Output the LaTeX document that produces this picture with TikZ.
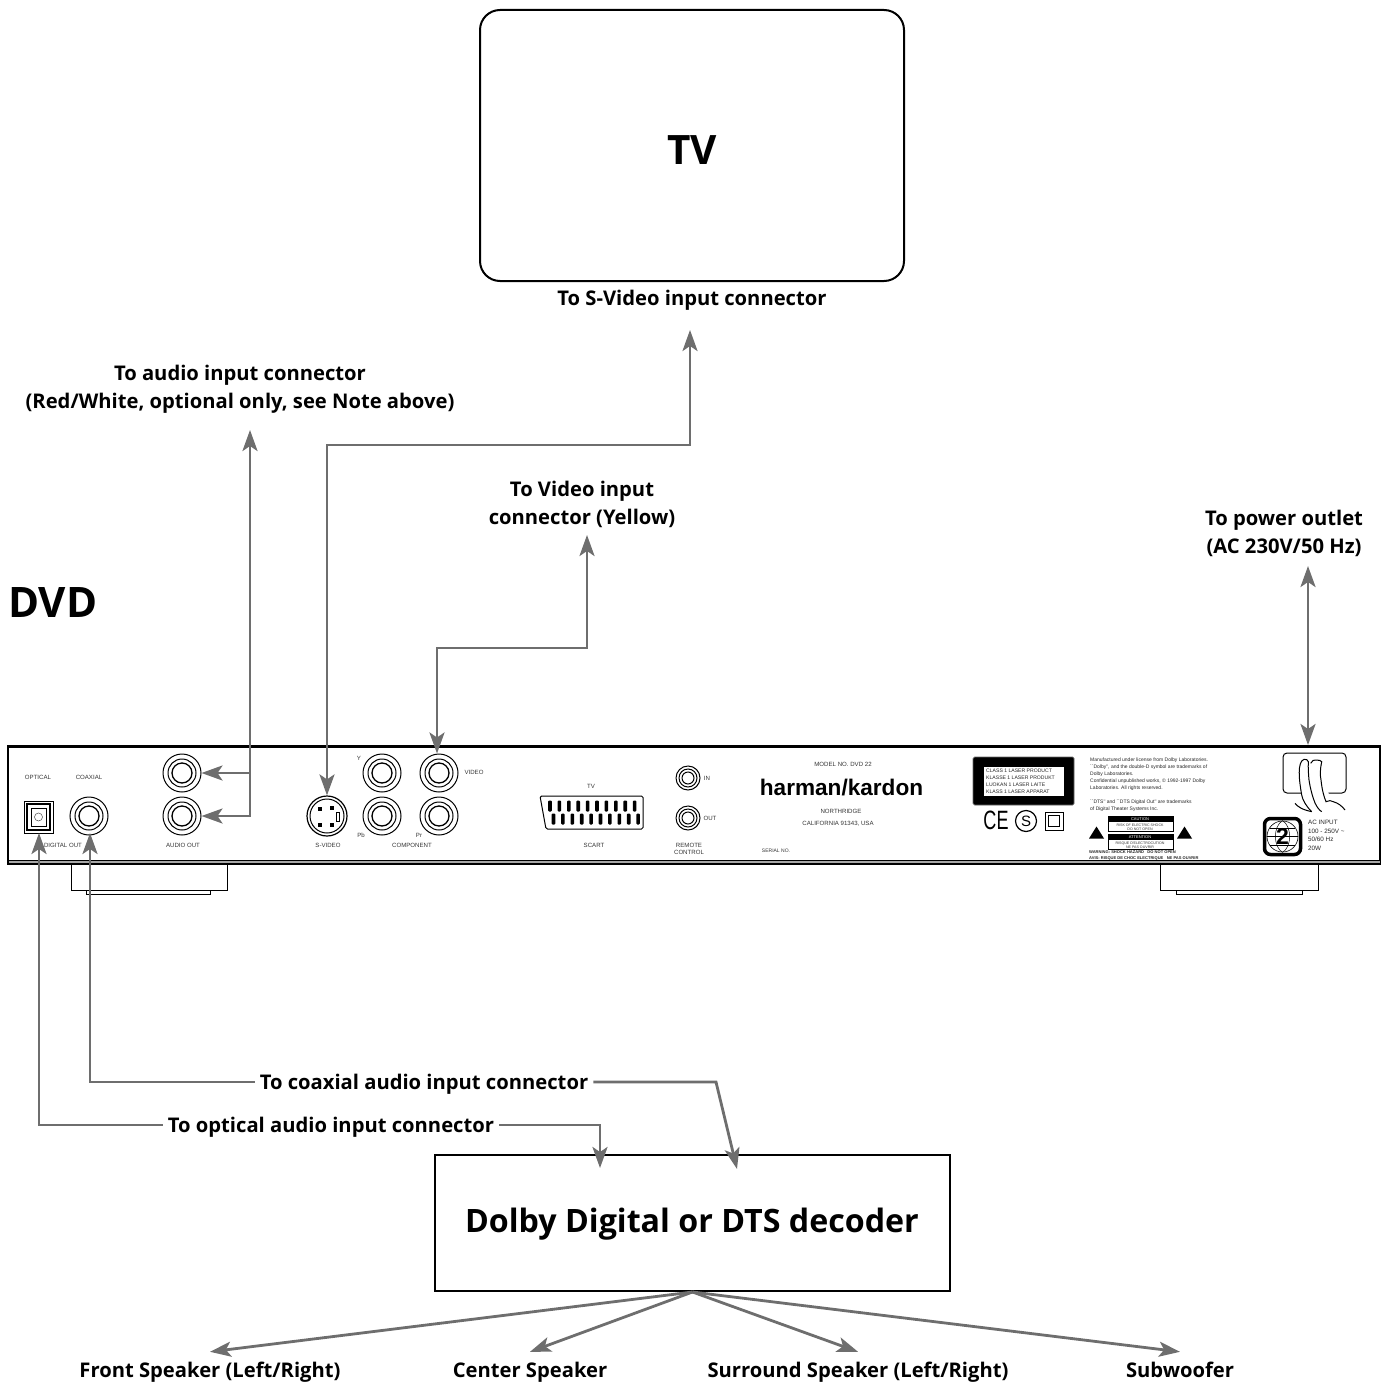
\documentclass[tikz,border=0pt]{standalone}
\usepackage{fontspec}
\usepackage{graphicx}
\usetikzlibrary{arrows.meta,positioning}
\setmainfont{Open Sans}
\newfontfamily\panelfont{Liberation Sans}
\definecolor{cablegray}{HTML}{6E6E6E}
\begin{document}
\begin{tikzpicture}[x=1pt,y=-1pt,
					cable/.style={draw=cablegray,
					line width=2.8pt,
					line join=miter,
					{Stealth[length=21pt,width=15pt,inset=5pt]}-{Stealth[length=21pt,width=15pt,inset=5pt]}},
					outcable/.style={draw=cablegray,
					line width=2.8pt,
					-{Stealth[length=21pt,width=15pt,inset=5pt]}},
					textlabel/.style={font=\fontsize{20.2}{28}\selectfont\bfseries,
					align=center,
					inner sep=5pt},
					linelabel/.style={textlabel,
					text height=14.4pt,
					text depth=0pt},
					speakernode/.style={linelabel,
					inner ysep=10.8pt},
					bigbox/.style={draw=black,
					line width=2pt,
					inner sep=0pt},
					jacknode/.style={circle,
					draw=black,
					line width=1pt,
					inner sep=0pt,
					minimum size=38pt},
					ringnode/.style={circle,
					draw=black,
					line width=1pt,
					inner sep=0pt},
					paneltext/.style={font=\panelfont\fontsize{6.1}{7.5}\selectfont,
					text=black!80,
					align=center,
					inner sep=0pt},
					tinyleft/.style={font=\panelfont\fontsize{5}{7.05}\selectfont,
					text=black!85,
					align=left,
					anchor=north west,
					inner sep=0pt}
					]
\useasboundingbox (0,0) rectangle (1388,1383);

%TV
\node[bigbox, rounded corners=20pt, minimum width=424pt, minimum height=271pt] (tv) at (692,145.5) {};
\node[font=\fontsize{40.5}{46}\selectfont\bfseries, inner sep=0pt] (tvTitle) at (692,150) {TV};
\node[linelabel] (tvLabel) at (692,298) {To S-Video input connector};

%DVD title
\node[font=\fontsize{42}{50}\selectfont\bfseries, inner sep=0pt, anchor=west] (dvd) at (8,603) {DVD};

%top labels
\node[textlabel] (audioLabel) at (240,389.5) {To audio input connector\\(Red/White, optional only, see Note above)};
\node[textlabel] (videoLabel) at (582,504.5) {To Video input\\connector (Yellow)};
\node[textlabel] (powerLabel) at (1284,533.5) {To power outlet\\(AC 230V/50 Hz)};

%chassis
\node[draw=black, line width=2.6pt, minimum width=1372pt, minimum height=117pt, inner sep=0pt] (chassis) at (694,805) {};
\node[draw=black, fill=cablegray!60, line width=.7pt, minimum width=1372pt, minimum height=3pt, inner sep=0pt] (chassisLip) at (694,862) {};
\draw[line width=1pt] (71,865) -- (71,890) -- (227,890) -- (227,865);
\draw[line width=1pt] (86,890) -- (86,894) -- (210,894) -- (210,890);
\draw[line width=1pt] (1160,865) -- (1160,890) -- (1318,890) -- (1318,865);
\draw[line width=1pt] (1176,890) -- (1176,894) -- (1302,894) -- (1302,890);

%jacks
\foreach \name/\jx/\jy in {audioL/182/773,audioR/182/816,coaxial/89/816,compY/382/773,compPb/382/816,composite/439/773,compPr/439/816}{
	\node[jacknode] (\name) at (\jx,\jy) {};
	\node[ringnode, minimum size=28pt] (\name-ring) at (\name) {};
	\node[ringnode, minimum size=20pt, line width=1.3pt] (\name-hole) at (\name) {};
}
\foreach \name/\jx/\jy in {remoteIn/688/778,remoteOut/688/818}{
	\node[jacknode, minimum size=24pt] (\name) at (\jx,\jy) {};
	\node[ringnode, minimum size=18pt] (\name-ring) at (\name) {};
	\node[ringnode, minimum size=12pt] (\name-hole) at (\name) {};
}

%s-video jack
\node[jacknode, minimum size=40pt, line width=1.2pt] (svideo) at (327,816) {};
\node[ringnode, minimum size=34pt] (svideo-ring) at (svideo) {};
\foreach \pinx/\piny in {-7/-7,5/-8,-7/9,5/9}{
	\fill[black] (327+\pinx-2,816+\piny-2) rectangle (327+\pinx+2,816+\piny+2);
}
\draw[line width=.8pt] (336.5,812) rectangle (339.5,821);

%optical
\node[draw=black, line width=1pt, minimum width=29pt, minimum height=32pt, inner sep=0pt] (optical) at (38.5,817) {};
\node[draw=black, line width=1.2pt, minimum width=23pt, minimum height=26pt, inner sep=0pt] (opticalIn) at (optical) {};
\node[draw=black, line width=1pt, minimum width=15pt, minimum height=18pt, inner sep=0pt] (opticalCore) at (optical) {};
\node[circle, draw=black!70, line width=.5pt, minimum size=8pt, inner sep=0pt] (opticalLens) at (optical) {};

%scart
\draw[line width=1pt, rounded corners=1.5pt] (540,796) -- (643,796) -- (643,829) -- (546,829) -- cycle;
\foreach \pin in {0,...,9}{
	\fill[black, rounded corners=1pt] (550+9.4*\pin-1.8,800.5) rectangle (550+9.4*\pin+1.8,811.5);
	\fill[black, rounded corners=1pt] (553.5+9.4*\pin-1.8,813.5) rectangle (553.5+9.4*\pin+1.8,824.5);
}

%panel texts
\node[paneltext] (opticalText) at (38,777) {OPTICAL};
\node[paneltext] (coaxialText) at (89,777) {COAXIAL};
\node[paneltext] (digitalText) at (63,845) {DIGITAL OUT};
\node[paneltext] (audioText) at (183,845) {AUDIO OUT};
\node[paneltext] (svideoText) at (328,845) {S-VIDEO};
\node[paneltext] (componentText) at (412,845) {COMPONENT};
\node[paneltext] (yText) at (359,758) {Y};
\node[paneltext] (pbText) at (361,835) {Pb};
\node[paneltext] (prText) at (419,835) {Pr};
\node[paneltext] (videoText) at (474,772) {VIDEO};
\node[paneltext] (tvText) at (591,786) {TV};
\node[paneltext] (scartText) at (594,845) {SCART};
\node[paneltext] (inText) at (707,778) {IN};
\node[paneltext] (outText) at (710,818) {OUT};
\node[paneltext] (remoteText) at (689,849) {REMOTE\\CONTROL};
\node[paneltext] (modelText) at (843,764) {MODEL NO. DVD 22};
\node[inner sep=0pt, font=\panelfont\bfseries\fontsize{22.6}{26}\selectfont] (brand) at (841.5,788) {harman/kardon};
\node[paneltext] (cityText) at (841,811) {NORTHRIDGE};
\node[paneltext] (stateText) at (838,824) {CALIFORNIA 91343, USA};
\node[paneltext, font=\panelfont\fontsize{5}{6}\selectfont] (serialText) at (776,851) {SERIAL NO.};

%laser label
\node[draw=black!60, fill=black, rounded corners=1.5pt, line width=.7pt, minimum width=101pt, minimum height=48pt, inner sep=0pt] (laserBox) at (1023.5,781) {};
\node[fill=white, minimum width=80pt, minimum height=29pt, inner sep=0pt] (laserPanel) at (laserBox) {};
\node[tinyleft, font=\panelfont\fontsize{5.1}{7.2}\selectfont] (laserText) at (986,768.5) {CLASS 1 LASER PRODUCT\\KLASSE 1 LASER PRODUKT\\LUOKAN 1 LASER LAITE\\KLASS 1 LASER APPARAT};

%marks
\node[inner sep=0pt, font=\panelfont\fontsize{26.5}{27}\selectfont] (ceMark) at (996,820) {\scalebox{.68}[1]{CE}};
\node[circle, draw=black, line width=1.2pt, minimum size=21pt, inner sep=0pt, font=\panelfont\fontsize{15}{15}\selectfont] (sMark) at (1026,821) {S};
\node[draw=black, line width=1pt, minimum size=18pt, inner sep=0pt] (squareMark) at (1054,821) {};
\node[draw=black, line width=1pt, minimum size=11pt, inner sep=0pt] (squareMarkIn) at (squareMark) {};

%legal text
\node[tinyleft] (legalText) at (1090,757.5) {Manufactured under license from Dolby Laboratories.\\``Dolby'', and the double-D symbol are trademarks of\\Dolby Laboratories.\\Confidential unpublished works, \textcopyright{} 1992-1997 Dolby\\Laboratories. All rights reserved.};
\node[tinyleft] (dtsText) at (1090,799.5) {``DTS'' and ``DTS Digital Out'' are trademarks\\of Digital Theater Systems Inc.};

%caution
\foreach \wx in {1096.5,1184.5}{
	\fill[black] (\wx-7.5,838.5) -- (\wx,826.5) -- (\wx+7.5,838.5) -- cycle;
}
\node[draw=black, fill=white, line width=.6pt, minimum width=65pt, minimum height=15pt, inner sep=0pt] (cautionBox) at (1140.5,824) {};
\fill[black] (cautionBox.north west) rectangle (cautionBox.east |- 0,822);
\node[paneltext, font=\panelfont\fontsize{4}{4}\selectfont, text=white] (cautionHead) at (1140,819.5) {CAUTION};
\node[paneltext, font=\panelfont\fontsize{3.6}{4}\selectfont] (cautionText) at (1140,827) {RISK OF ELECTRIC SHOCK\\DO NOT OPEN};
\node[draw=black, fill=white, line width=.6pt, minimum width=65pt, minimum height=15pt, inner sep=0pt] (attentionBox) at (1140.5,842) {};
\fill[black] (attentionBox.north west) rectangle (attentionBox.east |- 0,840);
\node[paneltext, font=\panelfont\fontsize{4}{4}\selectfont, text=white] (attentionHead) at (1140,837.5) {ATTENTION};
\node[paneltext, font=\panelfont\fontsize{3.6}{4}\selectfont] (attentionText) at (1140,845) {RISQUE D'ELECTROCUTION\\NE PAS OUVRIR};
\node[tinyleft, font=\panelfont\bfseries\fontsize{4.05}{6.2}\selectfont] (warningText) at (1089,850.3) {WARNING: SHOCK HAZARD \ \ DO NOT OPEN\\AVIS: RISQUE DE CHOC ELECTRIQUE \ \ NE PAS OUVRIR};

%plug and cord
\node[draw=black, line width=1pt, rounded corners=4pt, minimum width=63pt, minimum height=40pt, inner sep=0pt] (plug) at (1314.5,773) {};
\fill[white] (1301,793) -- (1301,765) -- (1322,765) -- (1329,795) -- (1329,802) -- (1312,812) -- cycle;
\draw[line width=1pt] (1311.7,811.7) .. controls (1306,806) and (1302.5,800) .. (1301.7,795)
	.. controls (1299,780) and (1297,762) .. (1304,759.3)
	.. controls (1306,758.8) and (1308,760) .. (1308.3,761.7)
	.. controls (1308,768) and (1308.5,775) .. (1309,780)
	.. controls (1310.5,790) and (1313,798) .. (1315,803)
	.. controls (1317,807) and (1319,810) .. (1321.7,811.7);
\draw[line width=1pt] (1310.7,763.3) .. controls (1312,760.5) and (1314,759.5) .. (1316,760)
	.. controls (1319,760) and (1321,760.5) .. (1321.7,761.7)
	.. controls (1320,770) and (1320,775) .. (1321,780)
	.. controls (1322,790) and (1324,797) .. (1326,801.7)
	.. controls (1329,800) and (1331,800.5) .. (1333.3,801.7)
	.. controls (1338,803) and (1342,806) .. (1345,810);
\draw[line width=1pt] (1295,803.3) .. controls (1298,807) and (1302,809.5) .. (1311.7,811.7);

%region mark
\node[draw=black, line width=3.5pt, rounded corners=6pt, minimum width=36pt, minimum height=36pt, inner sep=0pt] (regionBox) at (1282.5,836.5) {};
\node[circle, draw=black, line width=.6pt, minimum size=31pt, inner sep=0pt] (regionGlobe) at (regionBox) {};
\draw[line width=.5pt] (regionGlobe.north) .. controls (1273,826) and (1273,847) .. (regionGlobe.south);
\draw[line width=.5pt] (regionGlobe.north) .. controls (1292,826) and (1292,847) .. (regionGlobe.south);
\draw[line width=.5pt] (regionGlobe.west) -- (regionGlobe.east);
\draw[line width=.5pt] (1270,828) -- (1295,828);
\draw[line width=.5pt] (1270,845) -- (1295,845);
\node[inner sep=0pt, font=\panelfont\bfseries\fontsize{23}{23}\selectfont] (regionNumber) at (regionBox) {2};
\node[tinyleft, font=\panelfont\fontsize{6.3}{8.9}\selectfont] (acText) at (1308,819.5) {AC INPUT\\100 - 250V \textasciitilde\\50/60 Hz\\20W};

%decoder
\node[bigbox, minimum width=515pt, minimum height=136pt] (decoder) at (692.5,1223) {};
\node[inner sep=0pt, font=\fontsize{32.2}{40}\selectfont\bfseries] (decoderText) at (692,1224.5) {Dolby Digital or DTS decoder};

%paths from the deck
\coordinate (tvTop) at (690,330);
\coordinate (tvBend) at (327,445);
\draw[cable] (tvTop) |- (tvBend) -- (svideo.north);

\coordinate (videoTop) at (587,535);
\coordinate (videoBend) at (437,648);
\draw[cable] (videoTop) |- (videoBend) -- (composite.north -| videoBend);

\coordinate (audioTop) at (250,430);
\draw[cable] (audioTop) |- (audioR.east);
\draw[outcable] (audioL.east -| audioTop) -- (audioL.east);

\coordinate (powerTop) at (1308,566);
\coordinate (powerEnd) at (1308,745);
\draw[cable] (powerTop) -- (powerEnd);

%digital labels
\node[linelabel] (coaxLabel) at (424,1082) {To coaxial audio input connector};
\node[linelabel] (opticalLabel) at (331,1125) {To optical audio input connector};

\coordinate (coaxialTip) at (90,833);
\coordinate (opticalTip) at (39,833);
\draw[outcable] (coaxLabel.west) -| (coaxialTip);
\draw[outcable] (opticalLabel.west) -| (opticalTip);

\coordinate (coaxBend) at (716,1082);
\coordinate (coaxEnd) at (737,1169);
\coordinate (opticalEnd) at (600,1168);
\draw[outcable] (coaxLabel.east) -- (coaxBend) -- (coaxEnd);
\draw[outcable] (opticalLabel.east) -| (opticalEnd);

%speakers
\node[speakernode] (front) at (210,1370) {Front Speaker (Left/Right)};
\node[speakernode] (center) at (530,1370) {Center Speaker};
\node[speakernode] (surround) at (858,1370) {Surround Speaker (Left/Right)};
\node[speakernode] (subwoofer) at (1180,1370) {Subwoofer};
\foreach \speaker in {front,center,surround,subwoofer}{
	\draw[outcable] (decoder.south) -- (\speaker.north);
}
\end{tikzpicture}
\end{document}
